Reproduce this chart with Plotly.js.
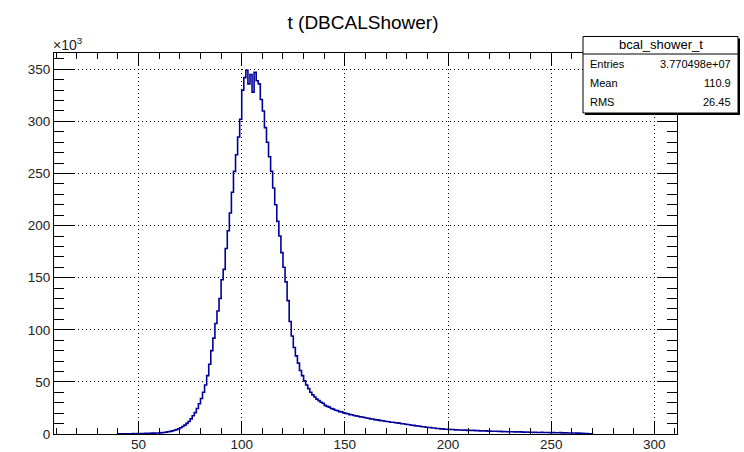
<!DOCTYPE html>
<html>
<head>
<meta charset="utf-8">
<script src="https://cdn.plot.ly/plotly-3.0.1.min.js"></script>
<style>html,body{margin:0;padding:0;background:#fff}#chart{width:744px;height:452px}</style>
</head>
<body>
<div id="chart"></div>
<script>
// Histogram definition (bin left edge of first bin, bin width)
const binStart = 40;
const binWidth = 1;
// Counts per bin in units of 10^3, bins 40..269
const countsK = [
  0.1,0.2,0.1,0.3,0.2,0.3,0.2,0.4,0.3,0.4,
  0.4,0.5,0.5,0.6,0.6,0.7,0.8,0.8,0.9,1.0,
  1.1,1.3,1.5,1.8,2.1,2.5,3.0,3.6,4.2,5.0,
  6.0,7.2,8.5,10.2,12.0,14.5,17.5,20.5,24.5,29.0,
  34.0,40.0,47.0,56.0,67.0,80.0,92.0,106.0,118.0,130.0,
  148.0,158.0,178.0,195.0,212.0,232.0,252.0,268.0,285.0,302.0,
  330.0,342.0,349.0,336.0,345.0,328.0,347.0,339.0,336.0,321.0,
  310.0,294.0,280.0,266.0,252.0,236.0,220.0,204.0,190.0,174.0,
  160.0,146.0,128.0,108.0,94.0,83.0,75.0,68.0,61.0,56.0,
  51.0,47.0,43.5,40.0,37.5,35.5,33.5,32.0,30.5,29.5,
  27.5,26.5,25.8,24.5,23.9,22.8,22.4,21.5,21.2,20.3,
  19.8,19.4,18.6,18.5,17.7,17.4,17.1,16.4,16.3,15.8,
  15.4,15.1,14.5,14.4,13.8,13.6,13.3,12.8,12.7,12.2,
  12.0,11.8,11.3,11.3,10.8,10.7,10.4,9.9,9.8,9.3,
  9.1,8.9,8.4,8.3,7.8,7.7,7.5,7.0,7.0,6.5,
  6.3,6.2,5.7,5.7,5.3,5.3,4.9,4.9,4.5,4.6,
  4.4,4.3,4.3,4.0,4.1,3.8,3.9,3.6,3.8,3.5,
  3.5,3.4,3.5,3.2,3.3,3.0,3.1,2.9,3.0,2.8,
  2.8,2.7,2.6,2.7,2.4,2.5,2.3,2.4,2.2,2.2,
  2.1,2.2,1.9,2.0,1.9,2.0,1.8,1.8,1.9,1.7,
  1.7,1.6,1.7,1.5,1.5,1.6,1.4,1.5,1.4,1.3,
  1.3,1.4,1.2,1.2,1.3,1.1,1.1,1.2,1.0,1.0,
  0.9,0.9,0.8,0.8,0.7,0.6,0.5,0.4,0.3,0.2
];
const xRange = [9, 311];
const yRange = [0, 365.6];
const xTickVals = [50, 100, 150, 200, 250, 300];
const yTickVals = [0, 50, 100, 150, 200, 250, 300, 350];
const chartTitle = 't (DBCALShower)';
const statsName = 'bcal_shower_t';
const statsLabels = ['Entries', 'Mean', 'RMS'];
const statsValues = ['3.770498e+07', '110.9', '26.45'];

// Build step outline from the bins
const xs = [binStart];
const ys = [0];
for (let i = 0; i < countsK.length; i++) {
  xs.push(binStart + i * binWidth);
  ys.push(countsK[i]);
}
xs.push(binStart + countsK.length * binWidth);
ys.push(countsK[countsK.length - 1]);
xs.push(binStart + countsK.length * binWidth);
ys.push(0);

const FONT = 'Liberation Sans, Arial, Helvetica, sans-serif';

// plot frame in pixels: left 54, right 677, top 53, bottom 434
const L = 54, R = 677, T = 53, B = 434;
const W = R - L, H = B - T;
const px = v => (v - L) / W;
const py = v => (B - v) / H;

const trace = {
  x: xs, y: ys, type: 'scatter', mode: 'lines',
  line: {shape: 'hv', color: '#000099', width: 1.6},
  hoverinfo: 'skip'
};

const axisCommon = {
  showline: true, linecolor: 'black', linewidth: 1, mirror: 'ticks',
  ticks: 'inside', tickcolor: 'black', tickwidth: 1,
  showgrid: true, gridcolor: 'black', griddash: '1px,3px', gridwidth: 1,
  zeroline: false, automargin: false,
  tickfont: {family: FONT, size: 13.5, color: '#222'}
};

const layout = {
  width: 744, height: 452,
  margin: {l: L, r: 744 - R, t: T, b: 452 - B, pad: 0},
  paper_bgcolor: 'white', plot_bgcolor: 'white',
  showlegend: false,
  title: {text: chartTitle, x: 363 / 744, xanchor: 'center', y: 1 - 22 / 452, yanchor: 'middle',
          font: {family: FONT, size: 19, color: 'black'}},
  xaxis: Object.assign({}, axisCommon, {
    range: xRange, tickmode: 'array', tickvals: xTickVals, ticklen: 12, ticklabelstandoff: -2,
    minor: {ticks: 'inside', ticklen: 6, dtick: 10, tick0: 0, tickcolor: 'black', showgrid: false}
  }),
  yaxis: Object.assign({}, axisCommon, {
    range: yRange, tickmode: 'array', tickvals: yTickVals, ticklen: 20,
    minor: {ticks: 'inside', ticklen: 10, dtick: 10, tick0: 0, tickcolor: 'black', showgrid: false}
  }),
  shapes: [
    // stats box shadow
    {type: 'rect', xref: 'paper', yref: 'paper', x0: px(585), x1: px(740), y0: py(115), y1: py(38.5),
     fillcolor: 'black', line: {width: 0}, layer: 'above'},
    // stats box
    {type: 'rect', xref: 'paper', yref: 'paper', x0: px(583), x1: px(738), y0: py(113), y1: py(36.5),
     fillcolor: 'white', line: {color: 'black', width: 1}, layer: 'above'},
    // separator
    {type: 'line', xref: 'paper', yref: 'paper', x0: px(583), x1: px(738), y0: py(54), y1: py(54),
     line: {color: 'black', width: 1}, layer: 'above'}
  ],
  annotations: [
    {text: '×10<sup>3</sup>', xref: 'paper', yref: 'paper', x: px(51), y: py(44), xanchor: 'left', yanchor: 'middle',
     showarrow: false, font: {family: FONT, size: 14, color: '#222'}},
    {text: statsName, xref: 'paper', yref: 'paper', x: px(660.5), y: py(45), xanchor: 'center', yanchor: 'middle',
     showarrow: false, font: {family: FONT, size: 13, color: 'black'}}
  ]
};

const rowY = [64, 83, 101.5];
for (let i = 0; i < statsLabels.length; i++) {
  layout.annotations.push({text: statsLabels[i], xref: 'paper', yref: 'paper', x: px(588), y: py(rowY[i]),
    xanchor: 'left', yanchor: 'middle', showarrow: false, font: {family: FONT, size: 11, color: 'black'}});
  layout.annotations.push({text: statsValues[i], xref: 'paper', yref: 'paper', x: px(733), y: py(rowY[i]),
    xanchor: 'right', yanchor: 'middle', showarrow: false, font: {family: FONT, size: 11, color: 'black'}});
}

Plotly.newPlot('chart', [trace], layout, {staticPlot: true, displayModeBar: false});
</script>
</body>
</html>
